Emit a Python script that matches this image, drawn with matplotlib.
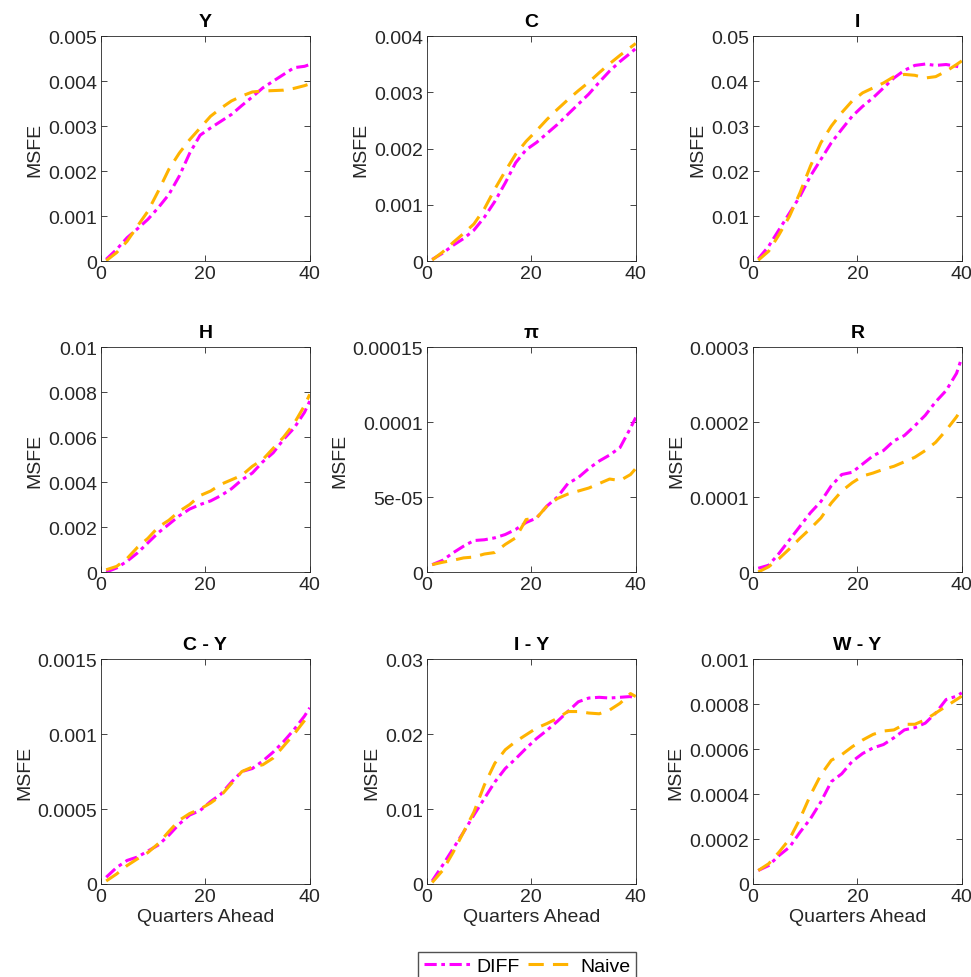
import matplotlib
matplotlib.use('Agg')
import matplotlib.pyplot as plt
from matplotlib.lines import Line2D

plt.rcParams['font.family'] = ['Liberation Sans', 'DejaVu Sans']

# Горизонт прогноза (кварталы)
quarters = [1, 3, 5, 7, 9, 11, 13, 15, 17, 19, 21, 23, 25, 27, 29, 31, 33, 35, 37, 39, 40]

titles = ['Y', 'C', 'I', 'H', 'π', 'R', 'C - Y', 'I - Y', 'W - Y']

diff_Y = [0.00004, 0.00026, 0.00052, 0.00072, 0.00093, 0.00119, 0.00148, 0.00189, 0.0024, 0.0028, 0.00296,
          0.00311, 0.00326, 0.00346, 0.00365, 0.00385, 0.004, 0.00415, 0.0043, 0.00433, 0.00437]
naive_Y = [0.00001, 0.00019, 0.00044, 0.00078, 0.00111, 0.00156, 0.00204, 0.0024, 0.0027, 0.00296, 0.00322,
           0.0034, 0.00356, 0.00367, 0.00376, 0.00378, 0.00379, 0.0038, 0.00384, 0.0039, 0.00394]

diff_C = [0.00003, 0.00014, 0.00028, 0.0004, 0.00055, 0.00078, 0.00106, 0.00139, 0.00175, 0.00198, 0.00211,
          0.00227, 0.00243, 0.00261, 0.00279, 0.00297, 0.00318, 0.00338, 0.00355, 0.0037, 0.00378]
naive_C = [0.00002, 0.00016, 0.00033, 0.00049, 0.00066, 0.00093, 0.00128, 0.0016, 0.0019, 0.00213, 0.00232,
           0.00252, 0.0027, 0.00287, 0.00303, 0.00318, 0.00335, 0.00351, 0.00366, 0.0038, 0.00387]

diff_I = [0.0005, 0.0033, 0.007, 0.0107, 0.0144, 0.0189, 0.0226, 0.0263, 0.0293, 0.0322, 0.0344,
          0.0363, 0.0385, 0.0407, 0.0424, 0.0435, 0.0438, 0.0435, 0.0437, 0.0433, 0.043]
naive_I = [0.0002, 0.0022, 0.0059, 0.01, 0.0152, 0.0211, 0.0263, 0.03, 0.033, 0.0356, 0.0374,
           0.0385, 0.0396, 0.041, 0.0415, 0.0413, 0.0407, 0.041, 0.0422, 0.0437, 0.0445]

diff_H = [0.0, 0.00018, 0.00048, 0.00085, 0.0013, 0.00175, 0.00212, 0.0025, 0.0028, 0.003, 0.00316,
          0.0034, 0.0037, 0.0041, 0.0044, 0.0049, 0.0053, 0.0059, 0.0064, 0.0071, 0.0076]
naive_H = [0.0001, 0.00025, 0.0006, 0.0011, 0.0015, 0.002, 0.0023, 0.0027, 0.003, 0.0034, 0.0036,
           0.0039, 0.0041, 0.0043, 0.0047, 0.005, 0.0055, 0.006, 0.0066, 0.0074, 0.0079]

diff_pi = [4.9e-6, 7.8e-6, 1.28e-5, 1.72e-5, 2.1e-5, 2.15e-5, 2.28e-5, 2.5e-5, 2.84e-5, 3.3e-5, 3.6e-5,
           4.4e-5, 5.0e-5, 5.9e-5, 6.3e-5, 6.9e-5, 7.4e-5, 7.8e-5, 8.3e-5, 9.6e-5, 1.03e-4]
naive_pi = [4.9e-6, 6.5e-6, 7.8e-6, 9.4e-6, 1.0e-5, 1.2e-5, 1.3e-5, 1.84e-5, 2.28e-5, 3.5e-5, 3.6e-5,
            4.4e-5, 4.9e-5, 5.2e-5, 5.4e-5, 5.6e-5, 5.9e-5, 6.2e-5, 6.1e-5, 6.5e-5, 6.9e-5]

diff_R = [0.5e-5, 0.9e-5, 2.5e-5, 4.3e-5, 6.1e-5, 7.9e-5, 9.4e-5, 1.15e-4, 1.3e-4, 1.33e-4, 1.44e-4,
          1.55e-4, 1.62e-4, 1.75e-4, 1.82e-4, 1.95e-4, 2.09e-4, 2.27e-4, 2.42e-4, 2.65e-4, 2.86e-4]
naive_R = [0.0, 0.7e-5, 1.8e-5, 3.1e-5, 4.5e-5, 5.8e-5, 7.2e-5, 9.2e-5, 1.08e-4, 1.19e-4, 1.28e-4,
           1.32e-4, 1.37e-4, 1.41e-4, 1.47e-4, 1.53e-4, 1.62e-4, 1.73e-4, 1.89e-4, 2.07e-4, 2.18e-4]

diff_CY = [0.45e-4, 1.1e-4, 1.57e-4, 1.8e-4, 2.2e-4, 2.6e-4, 3.25e-4, 4.0e-4, 4.6e-4, 4.9e-4, 5.5e-4,
           6.0e-4, 6.8e-4, 7.5e-4, 7.7e-4, 8.2e-4, 8.8e-4, 9.5e-4, 1.03e-3, 1.12e-3, 1.175e-3]
naive_CY = [0.2e-4, 0.67e-4, 1.23e-4, 1.68e-4, 2.1e-4, 2.7e-4, 3.5e-4, 4.25e-4, 4.7e-4, 5.0e-4, 5.4e-4,
            5.9e-4, 6.7e-4, 7.5e-4, 7.8e-4, 7.95e-4, 8.4e-4, 9.2e-4, 1.0e-3, 1.09e-3, 1.14e-3]

diff_IY = [0.0004, 0.0025, 0.0047, 0.0069, 0.0092, 0.0114, 0.0136, 0.0154, 0.0167, 0.0181, 0.0194,
           0.0205, 0.0217, 0.023, 0.0243, 0.0248, 0.0249, 0.0248, 0.0249, 0.025, 0.0247]
naive_IY = [0.0002, 0.0018, 0.0042, 0.0069, 0.0096, 0.0132, 0.0161, 0.0179, 0.019, 0.0199, 0.0208,
            0.0214, 0.0221, 0.023, 0.023, 0.0228, 0.0227, 0.0232, 0.0241, 0.0254, 0.025]

diff_WY = [0.6e-4, 0.82e-4, 1.27e-4, 1.64e-4, 2.3e-4, 2.9e-4, 3.65e-4, 4.55e-4, 4.9e-4, 5.45e-4, 5.8e-4,
           6.05e-4, 6.2e-4, 6.5e-4, 6.85e-4, 6.95e-4, 7.15e-4, 7.6e-4, 8.2e-4, 8.35e-4, 8.5e-4]
naive_WY = [0.6e-4, 0.9e-4, 1.42e-4, 2.0e-4, 2.9e-4, 3.95e-4, 4.85e-4, 5.5e-4, 5.75e-4, 6.1e-4, 6.4e-4,
            6.65e-4, 6.8e-4, 6.85e-4, 7.1e-4, 7.1e-4, 7.3e-4, 7.6e-4, 7.9e-4, 8.2e-4, 8.35e-4]

diff_all = [diff_Y, diff_C, diff_I, diff_H, diff_pi, diff_R, diff_CY, diff_IY, diff_WY]
naive_all = [naive_Y, naive_C, naive_I, naive_H, naive_pi, naive_R, naive_CY, naive_IY, naive_WY]

# Деления оси Y: значения и подписи
yticks = [[0, 0.001, 0.002, 0.003, 0.004, 0.005],
          [0, 0.001, 0.002, 0.003, 0.004],
          [0, 0.01, 0.02, 0.03, 0.04, 0.05],
          [0, 0.002, 0.004, 0.006, 0.008, 0.01],
          [0, 5e-05, 0.0001, 0.00015],
          [0, 0.0001, 0.0002, 0.0003],
          [0, 0.0005, 0.001, 0.0015],
          [0, 0.01, 0.02, 0.03],
          [0, 0.0002, 0.0004, 0.0006, 0.0008, 0.001]]
ylabels = [['0', '0.001', '0.002', '0.003', '0.004', '0.005'],
           ['0', '0.001', '0.002', '0.003', '0.004'],
           ['0', '0.01', '0.02', '0.03', '0.04', '0.05'],
           ['0', '0.002', '0.004', '0.006', '0.008', '0.01'],
           ['0', '5e-05', '0.0001', '0.00015'],
           ['0', '0.0001', '0.0002', '0.0003'],
           ['0', '0.0005', '0.001', '0.0015'],
           ['0', '0.01', '0.02', '0.03'],
           ['0', '0.0002', '0.0004', '0.0006', '0.0008', '0.001']]

diff_color = '#FF00FF'
naive_color = '#FFB300'
text_color = '#262626'
diff_ls = (0, (4, 1.5, 1.2, 1.5))
naive_ls = (0, (5, 3))

fig = plt.figure(figsize=(9.71, 9.78), dpi=100)

lefts = [0.104, 0.4397, 0.7755]
bottoms = [0.732, 0.4141, 0.0951]
w, h = 0.215, 0.230

for k in range(9):
    r, c = divmod(k, 3)
    ax = fig.add_axes([lefts[c], bottoms[r], w, h])
    ax.plot(quarters, diff_all[k], color=diff_color, lw=2.2, linestyle=diff_ls)
    ax.plot(quarters, naive_all[k], color=naive_color, lw=2.2, linestyle=naive_ls)
    ax.set_xlim(0, 40)
    ax.set_ylim(yticks[k][0], yticks[k][-1])
    ax.set_xticks([0, 20, 40])
    ax.set_yticks(yticks[k])
    ax.set_yticklabels(ylabels[k])
    ax.tick_params(direction='in', top=True, right=True, labelsize=14,
                   colors=text_color, length=4, width=0.6, pad=3)
    for sp in ax.spines.values():
        sp.set_color('#262626')
        sp.set_linewidth(0.6)
    ax.set_title(titles[k], fontsize=14, fontweight='bold', pad=7)
    ax.set_ylabel('MSFE', fontsize=14, color=text_color, labelpad=3)
    if r == 2:
        ax.set_xlabel('Quarters Ahead', fontsize=14, color=text_color, labelpad=2)

handles = [Line2D([], [], color=diff_color, lw=2.2, linestyle=diff_ls),
           Line2D([], [], color=naive_color, lw=2.2, linestyle=naive_ls)]
fig.legend(handles, ['DIFF', 'Naive'], loc='lower center', bbox_to_anchor=(0.543, -0.004),
           ncol=2, fontsize=14, frameon=True, fancybox=False, edgecolor='#262626',
           handlelength=2.4, columnspacing=0.4, handletextpad=0.3, borderpad=0.3,
           borderaxespad=0.0)

fig.savefig('out.png', dpi=100)
